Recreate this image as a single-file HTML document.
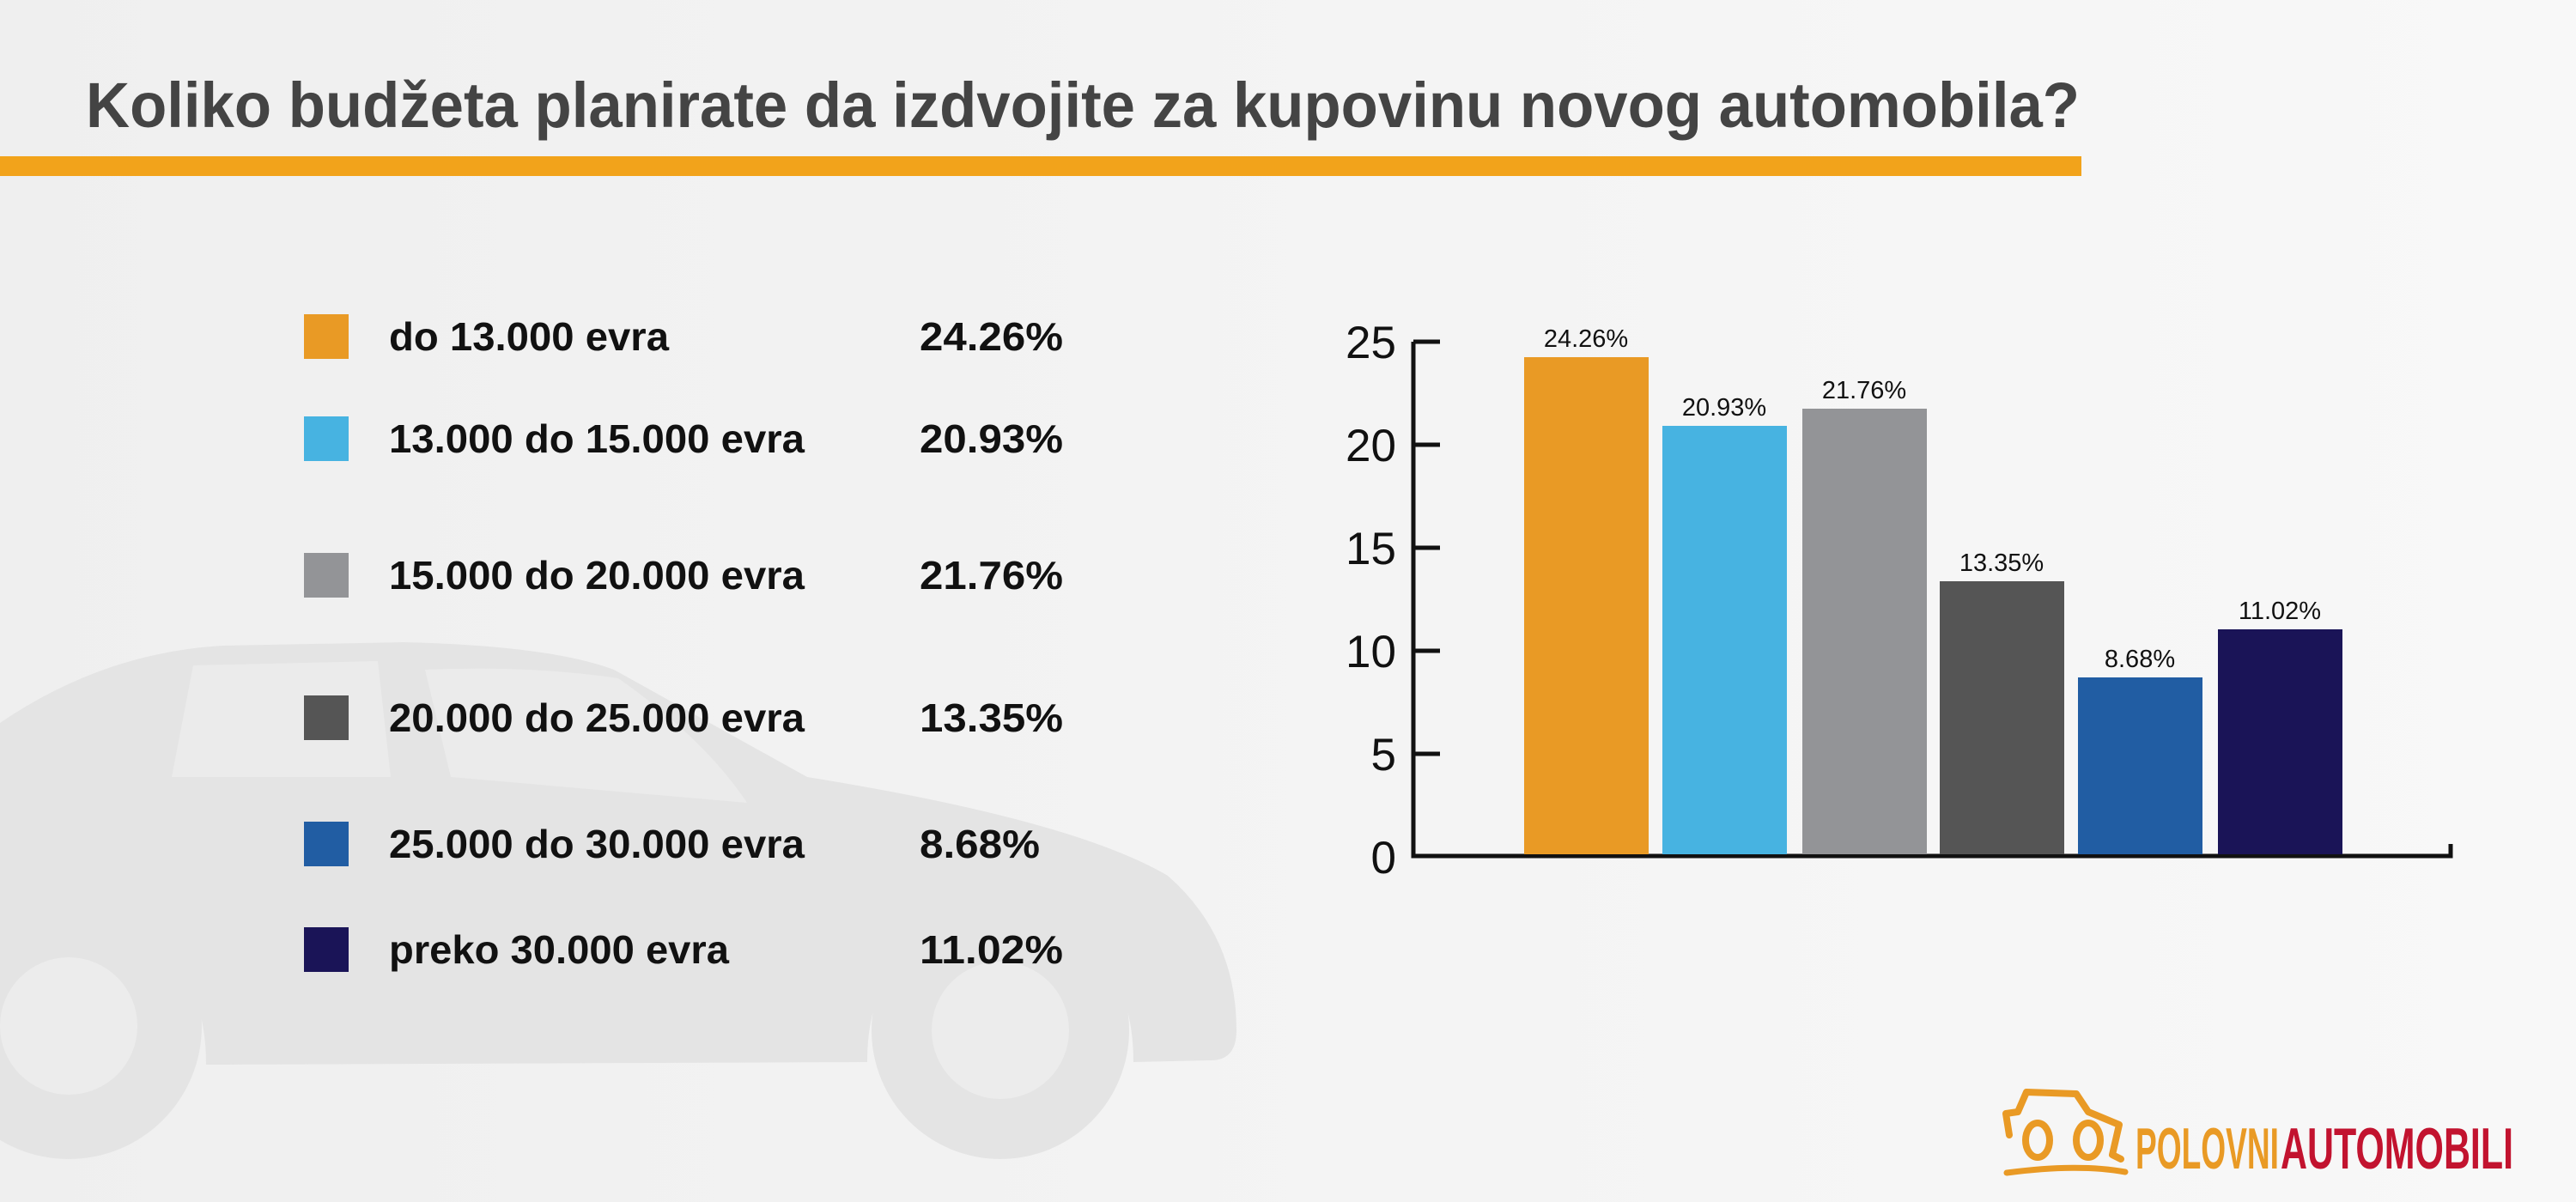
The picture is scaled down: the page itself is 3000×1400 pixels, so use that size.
<!DOCTYPE html>
<html><head><meta charset="utf-8"><style>
html,body{margin:0;padding:0;width:3000px;height:1400px;overflow:hidden}
svg{display:block}
text{font-family:"Liberation Sans",sans-serif}
</style></head><body>
<svg width="3000" height="1400" viewBox="0 0 3000 1400" xmlns="http://www.w3.org/2000/svg">
<defs>
<linearGradient id="bg" x1="0" y1="0" x2="1" y2="0">
<stop offset="0" stop-color="#efefef"/><stop offset="1" stop-color="#f8f8f8"/>
</linearGradient>
</defs>
<rect width="3000" height="1400" fill="url(#bg)"/>
<!-- car silhouette -->
<g fill="#e4e4e4">
<path d="M0,842 Q120,760 260,752 L470,748 Q640,752 715,780 L940,905 Q1250,955 1360,1020 Q1440,1090 1440,1200 Q1440,1235 1410,1235 L1320,1237 Q1320,1080 1165,1080 Q1010,1080 1010,1237 L240,1240 Q240,1080 80,1080 Q20,1080 0,1100 Z"/>
<circle cx="80" cy="1195" r="155"/>
<circle cx="1165" cy="1200" r="150"/>
</g>
<circle cx="80" cy="1195" r="80" fill="#ececec"/>
<circle cx="1165" cy="1200" r="80" fill="#ececec"/>
<path d="M200,905 L225,775 L440,770 L455,905 Z" fill="#ebebeb"/>
<path d="M495,780 L525,905 L870,935 Q820,860 720,790 Q620,775 495,780 Z" fill="#ebebeb"/>
<!-- title -->
<text x="100" y="148" font-size="74" font-weight="bold" fill="#444" textLength="2322" lengthAdjust="spacingAndGlyphs">Koliko budžeta planirate da izdvojite za kupovinu novog automobila?</text>
<rect x="0" y="182" width="2424" height="23" fill="#f2a31b"/>
<!-- legend -->
<g font-size="46" fill="#111" font-weight="bold">
<rect x="354" y="366" width="52" height="52" fill="#e99a25"/>
<text x="453" y="408" textLength="326" lengthAdjust="spacingAndGlyphs">do 13.000 evra</text>
<text x="1071" y="408" textLength="167" lengthAdjust="spacingAndGlyphs">24.26%</text>
<rect x="354" y="485" width="52" height="52" fill="#47b3e1"/>
<text x="453" y="527" textLength="484" lengthAdjust="spacingAndGlyphs">13.000 do 15.000 evra</text>
<text x="1071" y="527" textLength="167" lengthAdjust="spacingAndGlyphs">20.93%</text>
<rect x="354" y="644" width="52" height="52" fill="#939497"/>
<text x="453" y="686" textLength="484" lengthAdjust="spacingAndGlyphs">15.000 do 20.000 evra</text>
<text x="1071" y="686" textLength="167" lengthAdjust="spacingAndGlyphs">21.76%</text>
<rect x="354" y="810" width="52" height="52" fill="#555555"/>
<text x="453" y="852" textLength="484" lengthAdjust="spacingAndGlyphs">20.000 do 25.000 evra</text>
<text x="1071" y="852" textLength="167" lengthAdjust="spacingAndGlyphs">13.35%</text>
<rect x="354" y="957" width="52" height="52" fill="#215da3"/>
<text x="453" y="999" textLength="484" lengthAdjust="spacingAndGlyphs">25.000 do 30.000 evra</text>
<text x="1071" y="999" textLength="140" lengthAdjust="spacingAndGlyphs">8.68%</text>
<rect x="354" y="1080" width="52" height="52" fill="#1a1457"/>
<text x="453" y="1122" textLength="396" lengthAdjust="spacingAndGlyphs">preko 30.000 evra</text>
<text x="1071" y="1122" textLength="167" lengthAdjust="spacingAndGlyphs">11.02%</text>
</g>
<!-- chart -->
<g fill="#111" font-size="53" text-anchor="end">
<text x="1626" y="417">25</text>
<text x="1626" y="537">20</text>
<text x="1626" y="657">15</text>
<text x="1626" y="777">10</text>
<text x="1626" y="897">5</text>
<text x="1626" y="1017">0</text>
</g>
<g stroke="#111" stroke-width="5" fill="none">
<path d="M1646,398 V997 H2854 V983"/>
<path d="M1646,398 H1677 M1646,518 H1677 M1646,638 H1677 M1646,758 H1677 M1646,878 H1677"/>
</g>
<rect x="1775" y="416" width="145" height="579" fill="#e99a25"/>
<rect x="1936" y="496" width="145" height="499" fill="#47b3e1"/>
<rect x="2099" y="476" width="145" height="519" fill="#939497"/>
<rect x="2259" y="677" width="145" height="318" fill="#555555"/>
<rect x="2420" y="789" width="145" height="206" fill="#215da3"/>
<rect x="2583" y="733" width="145" height="262" fill="#1a1457"/>
<g font-size="29" fill="#111" text-anchor="middle">
<text x="1847" y="404">24.26%</text>
<text x="2008" y="484">20.93%</text>
<text x="2171" y="464">21.76%</text>
<text x="2331" y="665">13.35%</text>
<text x="2492" y="777">8.68%</text>
<text x="2655" y="721">11.02%</text>
</g>
<!-- logo -->
<g fill="none" stroke="#e99a25" stroke-width="8" stroke-linejoin="round" stroke-linecap="round">
<path d="M2340,1322 L2336,1297 L2350,1295 L2360,1272 L2418,1274 L2432,1295 L2468,1310 L2460,1345 L2470,1350"/>
<ellipse cx="2373" cy="1328" rx="14" ry="20"/>
<ellipse cx="2432" cy="1328" rx="14" ry="20"/>
<path d="M2337,1366 Q2420,1355 2475,1365" stroke-width="7"/>
</g>
<text x="2487" y="1361" font-size="68" font-weight="bold" fill="#e99a25" textLength="167" lengthAdjust="spacingAndGlyphs">POLOVNI</text>
<text x="2656" y="1361" font-size="68" font-weight="bold" fill="#c2132f" textLength="271" lengthAdjust="spacingAndGlyphs">AUTOMOBILI</text>
</svg>
</body></html>
